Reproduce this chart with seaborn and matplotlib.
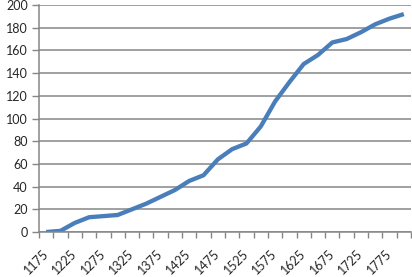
import numpy as np
import pandas as pd
import matplotlib
matplotlib.use("Agg")
import matplotlib.pyplot as plt
import seaborn as sns

years = list(range(1175, 1801, 25))
values = [0, 1, 8, 13, 14, 15, 20, 25, 31, 37, 45, 50, 64, 73, 78, 93,
          115, 132, 148, 156, 167, 170, 176, 183, 188, 192]
tick_years = list(range(1175, 1776, 50))

df = pd.DataFrame({"year": years, "value": values})

sns.set_style("white")
plt.rcParams["font.family"] = ["Lato", "DejaVu Sans"]

fig = plt.figure(figsize=(4.12, 2.77), dpi=100)
ax = fig.add_axes([39 / 412, 1 - 232 / 277, 372 / 412, 227 / 277])

sns.lineplot(data=df, x="year", y="value", ax=ax, color="#4a7ebb", linewidth=3.1,
             solid_capstyle="butt")

ax.set_xlim(1162.5, 1812.5)
ax.set_ylim(0, 200)
ax.set_yticks(range(0, 201, 20))
ax.yaxis.grid(True, color="#868686", linewidth=1.1)
ax.set_axisbelow(True)

ax.set_xticks(tick_years)
ax.set_xticklabels([str(y) for y in tick_years], rotation=45, ha="right",
                   va="center", rotation_mode="anchor")
ax.set_xticks(np.arange(1162.5, 1813, 25), minor=True)
ax.tick_params(axis="x", which="major", length=0, pad=14, labelsize=9)
ax.tick_params(axis="x", which="minor", length=4, width=1, color="#868686",
               direction="out", bottom=True)
ax.tick_params(axis="y", length=5, width=1, color="#868686", direction="out",
               left=True, labelsize=9, pad=3)

ax.set_xlabel("")
ax.set_ylabel("")
for s in ["top", "right"]:
    ax.spines[s].set_visible(False)
for s in ["left", "bottom"]:
    ax.spines[s].set_color("#868686")
    ax.spines[s].set_linewidth(1.1)

fig.savefig("out.png", dpi=100)
